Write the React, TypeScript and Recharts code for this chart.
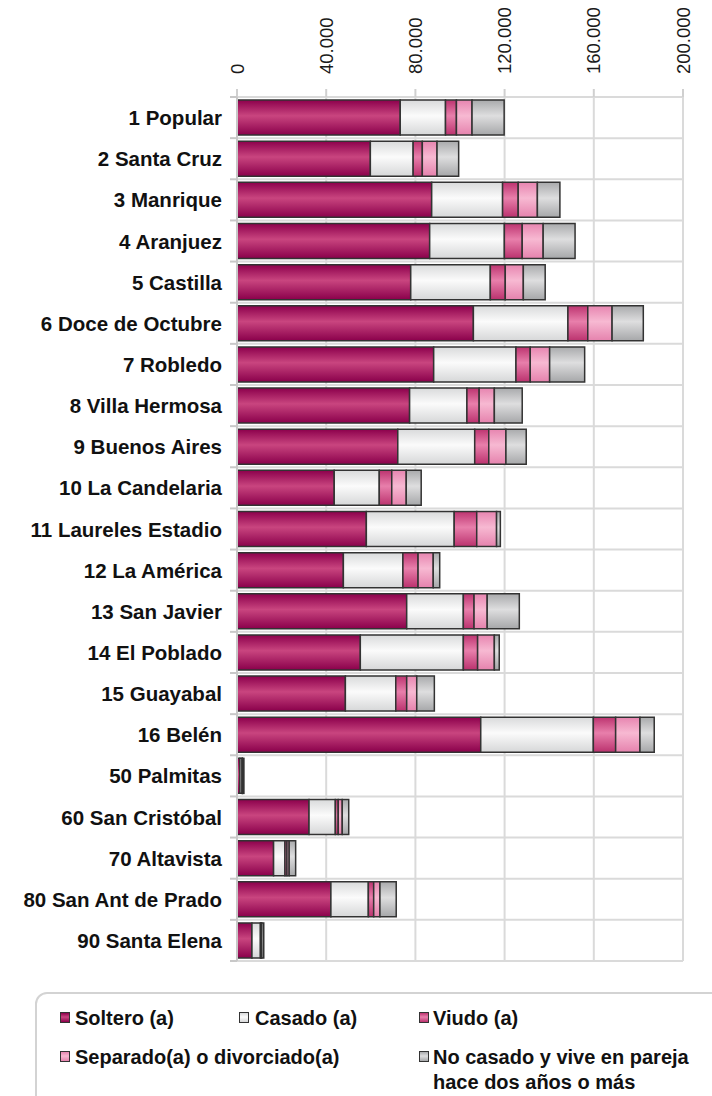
import React from 'react';
import { BarChart, Bar, XAxis, YAxis, CartesianGrid, Legend } from 'recharts';

const categories = [
  '1 Popular', '2 Santa Cruz', '3 Manrique', '4 Aranjuez', '5 Castilla',
  '6 Doce de Octubre', '7 Robledo', '8 Villa Hermosa', '9 Buenos Aires',
  '10 La Candelaria', '11 Laureles Estadio', '12 La América', '13 San Javier',
  '14 El Poblado', '15 Guayabal', '16 Belén', '50 Palmitas', '60 San Cristóbal',
  '70 Altavista', '80 San Ant de Prado', '90 Santa Elena',
];

const soltero = [73200, 59800, 87300, 86400, 77900, 106000, 88200, 77400, 72100, 43600, 58000, 47700, 76100, 55300, 48600, 109300, 1300, 32300, 16400, 42100, 6700];
const casado = [20300, 19200, 31800, 33500, 35700, 42400, 36900, 25700, 34500, 20200, 39400, 26700, 25400, 46200, 22600, 50500, 1000, 11800, 5100, 16800, 3800];
const viudo = [4900, 4100, 7000, 8000, 6700, 8900, 6400, 5500, 6300, 5600, 10100, 6800, 4800, 6400, 4900, 10000, 100, 1300, 900, 2400, 300];
const separado = [7000, 6600, 8600, 9400, 8100, 10900, 8700, 6800, 7700, 6500, 8900, 6800, 5900, 7500, 4500, 10900, 100, 1800, 1000, 2800, 300];
const noCasado = [14400, 9700, 10100, 14300, 9800, 14000, 15700, 12500, 9100, 6700, 1700, 2900, 14400, 2200, 7900, 6400, 600, 2900, 2900, 7300, 900];

const xTicks = [0, 40000, 80000, 120000, 160000, 200000];

const seriesNames = [
  'Soltero (a)',
  'Casado (a)',
  'Viudo (a)',
  'Separado(a) o divorciado(a)',
  'No casado y vive en pareja hace dos años o más',
];
const seriesKeys = ['soltero', 'casado', 'viudo', 'separado', 'noCasado'];

const gradients = [
  { id: 'gSol', top: '#8c004c', mid: '#c9457f', bot: '#8a004b' },
  { id: 'gCas', top: '#d9dadb', mid: '#fbfbfb', bot: '#d6d7d8' },
  { id: 'gViu', top: '#bd3470', mid: '#e87fab', bot: '#bb326e' },
  { id: 'gSep', top: '#e785b0', mid: '#f7b9d2', bot: '#e582ad' },
  { id: 'gNoc', top: '#a9aaac', mid: '#dededf', bot: '#a6a7a9' },
];

const data = categories.map((name, i) => ({
  name,
  soltero: soltero[i],
  casado: casado[i],
  viudo: viudo[i],
  separado: separado[i],
  noCasado: noCasado[i],
}));

const CHART_W = 712;
const CHART_H = 1096;
const MARGIN = { top: 0, right: 29, bottom: 135, left: 0 };
const Y_W = 237;
const X_H = 97;
const PLOT_TOP = MARGIN.top + X_H;
const PLOT_H = CHART_H - MARGIN.bottom - PLOT_TOP;
const BAND = PLOT_H / categories.length;

const fmt = (v: number) => String(v).replace(/\B(?=(\d{3})+(?!\d))/g, '.');

const XTick = (props: any) => {
  const { x, payload } = props;
  return (
    <text
      transform={`translate(${x},74) rotate(-90)`}
      textAnchor="start"
      dominantBaseline="central"
      fontFamily="'Liberation Sans', Arial, sans-serif"
      fontSize={18.5}
      fill="#1a1a1a"
    >
      {fmt(payload.value)}
    </text>
  );
};

const YTick = (props: any) => {
  const { x, y, payload, index } = props;
  return (
    <g>
      <text
        x={x - 15}
        y={y}
        textAnchor="end"
        dominantBaseline="central"
        fontFamily="'Liberation Sans', Arial, sans-serif"
        fontWeight="bold"
        fontSize={20.5}
        fill="#111"
      >
        {payload.value}
      </text>
      <line x1={x - 7} x2={x} y1={y + BAND / 2} y2={y + BAND / 2} stroke="#c8c8c8" strokeWidth={2} />
      {index === 0 ? (
        <line x1={x - 7} x2={x} y1={y - BAND / 2} y2={y - BAND / 2} stroke="#c8c8c8" strokeWidth={2} />
      ) : null}
    </g>
  );
};

const Swatch = ({ g }: { g: typeof gradients[number] }) => (
  <span
    style={{
      display: 'inline-block',
      width: 10,
      height: 11,
      border: '1px solid #333',
      background: `linear-gradient(to bottom, ${g.top}, ${g.mid} 45%, ${g.bot})`,
      boxSizing: 'border-box',
    }}
  />
);

const legendPos = [
  { sx: 23, sy: 18, tx: 38 },
  { sx: 202, sy: 18, tx: 218 },
  { sx: 382, sy: 18, tx: 396 },
  { sx: 23, sy: 57, tx: 38 },
  { sx: 382, sy: 57, tx: 396 },
];

const LegendContent = () => (
  <div
    style={{
      position: 'relative',
      width: 700,
      height: 130,
      border: '2px solid #d3d3d3',
      borderRadius: 12,
      boxSizing: 'border-box',
      fontFamily: "'Liberation Sans', Arial, sans-serif",
      fontWeight: 'bold',
      fontSize: 20,
      color: '#111',
    }}
  >
    {seriesNames.map((n, i) => {
      const p = legendPos[i];
      const lines = i === 4 ? ['No casado y vive en pareja', 'hace dos años o más'] : [n];
      return (
        <React.Fragment key={n}>
          <div style={{ position: 'absolute', left: p.sx, top: p.sy, lineHeight: 0 }}>
            <Swatch g={gradients[i]} />
          </div>
          <div style={{ position: 'absolute', left: p.tx, top: p.sy - 6, lineHeight: '25px', whiteSpace: 'nowrap' }}>
            {lines.map((l) => (
              <div key={l}>{l}</div>
            ))}
          </div>
        </React.Fragment>
      );
    })}
  </div>
);

export default function App() {
  return (
    <div style={{ position: 'absolute', left: 0, top: 0, width: CHART_W, height: CHART_H, overflow: 'hidden', background: '#fff' }}>
      <BarChart
        width={CHART_W}
        height={CHART_H}
        data={data}
        layout="vertical"
        margin={MARGIN}
        barCategoryGap="7.5%"
      >
        <defs>
          {gradients.map((g) => (
            <linearGradient key={g.id} id={g.id} x1="0" y1="0" x2="0" y2="1">
              <stop offset="0%" stopColor={g.top} />
              <stop offset="45%" stopColor={g.mid} />
              <stop offset="100%" stopColor={g.bot} />
            </linearGradient>
          ))}
        </defs>
        <CartesianGrid
          stroke="#dadada"
          strokeWidth={2}
          horizontalCoordinatesGenerator={() =>
            categories.map((_, i) => PLOT_TOP + BAND * (i + 1))
          }
        />
        <XAxis
          type="number"
          orientation="top"
          domain={[0, 200000]}
          ticks={xTicks}
          height={X_H}
          tick={<XTick />}
          tickSize={8}
          tickLine={{ stroke: '#d0d0d0', strokeWidth: 2 }}
          axisLine={{ stroke: '#dadada', strokeWidth: 2 }}
          interval={0}
        />
        <YAxis
          type="category"
          dataKey="name"
          width={Y_W}
          tick={<YTick />}
          tickLine={false}
          tickSize={0}
          tickMargin={0}
          interval={0}
          axisLine={{ stroke: '#c8c8c8', strokeWidth: 2 }}
        />
        {seriesKeys.map((k, i) => (
          <Bar
            key={k}
            dataKey={k}
            name={seriesNames[i]}
            stackId="a"
            fill={`url(#${gradients[i].id})`}
            stroke="#333"
            strokeWidth={1.5}
            isAnimationActive={false}
          />
        ))}
        <Legend
          layout="horizontal"
          verticalAlign="middle"
          align="center"
          content={<LegendContent />}
          wrapperStyle={{ position: 'absolute', left: 35, top: 992, width: 700, height: 130, margin: 0 }}
        />
      </BarChart>
    </div>
  );
}
